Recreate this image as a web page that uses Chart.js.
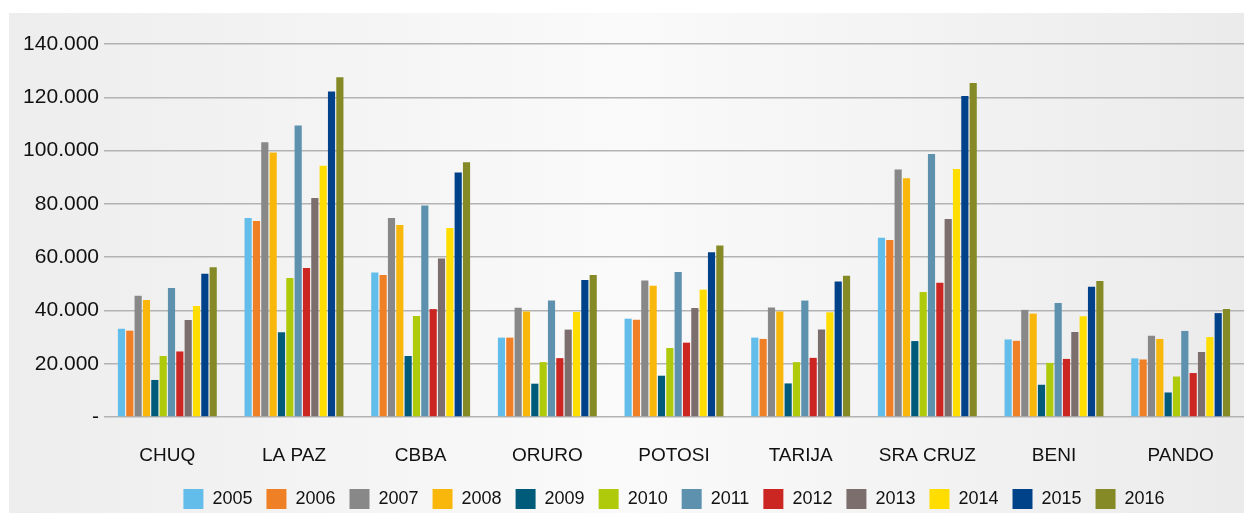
<!DOCTYPE html>
<html>
<head>
<meta charset="utf-8">
<script src="https://cdn.jsdelivr.net/npm/chart.js@4/dist/chart.umd.min.js"></script>
<style>
  html, body { margin: 0; padding: 0; background: #ffffff; }
  #chart { display: block; }
</style>
</head>
<body>
<canvas id="chart" width="1244" height="513"></canvas>
<script>
  // departamentos
  var categories = ['CHUQ', 'LA PAZ', 'CBBA', 'ORURO', 'POTOSI', 'TARIJA', 'SRA CRUZ', 'BENI', 'PANDO'];
  var years = ['2005', '2006', '2007', '2008', '2009', '2010', '2011', '2012', '2013', '2014', '2015', '2016'];
  var yTicks = [0, 20000, 40000, 60000, 80000, 100000, 120000, 140000];

  // one array per year, same order as categories
  var v2005 = [33100, 74700, 54200, 29800, 36900, 29800, 67300, 29100, 22000];
  var v2006 = [32400, 73600, 53300, 29800, 36500, 29300, 66400, 28600, 21600];
  var v2007 = [45500, 103100, 74700, 41000, 51200, 41100, 92900, 40200, 30500];
  var v2008 = [43900, 99300, 72100, 39600, 49300, 39600, 89600, 38800, 29300];
  var v2009 = [13900, 31800, 22900, 12500, 15500, 12600, 28500, 12100, 9200];
  var v2010 = [22900, 52200, 37900, 20600, 25900, 20600, 46900, 20300, 15200];
  var v2011 = [48400, 109400, 79400, 43700, 54400, 43700, 98700, 42800, 32300];
  var v2012 = [24600, 55900, 40500, 22100, 27900, 22200, 50400, 21800, 16500];
  var v2013 = [36400, 82200, 59500, 32800, 40900, 32800, 74300, 31900, 24400];
  var v2014 = [41700, 94300, 70900, 39400, 47800, 39300, 93100, 37800, 30000];
  var v2015 = [53800, 122200, 91800, 51400, 61800, 50900, 120500, 48900, 39000];
  var v2016 = [56200, 127500, 95600, 53300, 64400, 53000, 125400, 51000, 40500];

  var seriesValues = [v2005, v2006, v2007, v2008, v2009, v2010, v2011, v2012, v2013, v2014, v2015, v2016];
  var colors = ['#63BDEA', '#F08026', '#888888', '#F8B70A', '#005B7B', '#AFCA0B',
                '#5D91AE', '#CB2621', '#7D6E6E', '#FFDD00', '#00428A', '#858A26'];

  var fontFamily = '"Liberation Sans", Arial, Helvetica, sans-serif';

  function fmt(v) {
    if (v === 0) return '-';
    return String(v).replace(/\B(?=(\d{3})+(?!\d))/g, '.');
  }

  // grey panel behind the chart
  var panelBackground = {
    id: 'panelBackground',
    beforeDraw: function (chart) {
      var ctx = chart.ctx;
      var w = chart.width, h = chart.height;
      var g = ctx.createLinearGradient(9, 0, w, 0);
      g.addColorStop(0, '#ededed');
      g.addColorStop(0.5, '#fafafa');
      g.addColorStop(1, '#ebebeb');
      ctx.save();
      ctx.fillStyle = '#ffffff';
      ctx.fillRect(0, 0, w, h);
      ctx.fillStyle = g;
      ctx.fillRect(9, 13, w - 9, h - 13);
      ctx.restore();
    }
  };

  var datasets = years.map(function (y, i) {
    return {
      label: y,
      data: seriesValues[i],
      backgroundColor: colors[i],
      borderWidth: 0,
      categoryPercentage: 0.79,
      barPercentage: 0.86
    };
  });

  new Chart(document.getElementById('chart'), {
    type: 'bar',
    data: { labels: categories, datasets: datasets },
    options: {
      responsive: false,
      animation: false,
      layout: { padding: { top: 44, left: 0, right: 0, bottom: -6 } },
      plugins: {
        legend: {
          position: 'bottom',
          fullSize: false,
          labels: {
            boxWidth: 20,
            boxHeight: 20,
            padding: 14,
            color: '#111111',
            font: { family: fontFamily, size: 18 }
          }
        },
        tooltip: { enabled: false }
      },
      scales: {
        x: {
          grid: { display: false, drawTicks: false },
          border: { display: false },
          ticks: {
            color: '#111111',
            padding: 27,
            font: { family: fontFamily, size: 19 }
          },
          afterFit: function (scale) { scale.height = 58; }
        },
        y: {
          min: 0,
          max: 140000,
          afterBuildTicks: function (scale) {
            scale.ticks = yTicks.map(function (v) { return { value: v }; });
          },
          grid: { color: '#b3b3b3', lineWidth: 1.5, drawTicks: false },
          border: { display: false },
          ticks: {
            color: '#111111',
            padding: 5,
            font: { family: fontFamily, size: 21 },
            callback: function (v) { return fmt(v); }
          },
          afterFit: function (scale) { scale.width = 104; }
        }
      }
    },
    plugins: [panelBackground]
  });
</script>
</body>
</html>
